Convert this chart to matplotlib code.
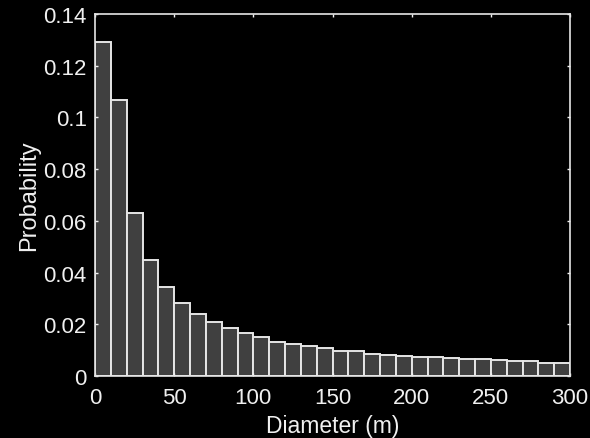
import matplotlib
matplotlib.use("Agg")
import matplotlib.pyplot as plt
import numpy as np

bin_edges = list(range(0, 310, 10))
probabilities = [0.129, 0.1068, 0.0632, 0.0449, 0.0345, 0.0281, 0.0239, 0.0209,
                 0.0184, 0.0165, 0.0150, 0.0131, 0.0125, 0.0116, 0.0107, 0.0098,
                 0.0095, 0.0086, 0.0081, 0.0076, 0.0072, 0.0072, 0.0068, 0.0064,
                 0.0066, 0.0062, 0.0058, 0.0058, 0.0049, 0.0049]
x_ticks = [0, 50, 100, 150, 200, 250, 300]
y_ticks = [0, 0.02, 0.04, 0.06, 0.08, 0.1, 0.12, 0.14]
y_tick_labels = ["0", "0.02", "0.04", "0.06", "0.08", "0.1", "0.12", "0.14"]

plt.rcParams['font.family'] = ['Liberation Sans', 'DejaVu Sans']
fig = plt.figure(figsize=(5.9, 4.39), dpi=100, facecolor='black')
ax = fig.add_axes([95/590, 1 - 377/439, 475/590, 362/439])
ax.set_facecolor('black')

lefts = bin_edges[:-1]
widths = np.diff(bin_edges)
ax.bar(lefts, probabilities, width=widths, align='edge', color='#404040',
       edgecolor='#e6e6e6', linewidth=1.4)

ax.set_xlim(0, 300)
ax.set_ylim(0, 0.14)
ax.set_xticks(x_ticks)
ax.set_yticks(y_ticks)
ax.set_yticklabels(y_tick_labels)
ax.tick_params(direction='in', colors='#f0f0f0', labelsize=16, length=2.5,
               width=1, top=True, right=True)
ax.tick_params(axis='y', pad=6)
ax.tick_params(axis='x', pad=8)
for s in ax.spines.values():
    s.set_color('#e6e6e6')
    s.set_linewidth(1.2)
ax.set_xlabel('Diameter (m)', color='#f0f0f0', fontsize=16.5, labelpad=4)
ax.set_ylabel('Probability', color='#f0f0f0', fontsize=17, labelpad=2)

fig.savefig('out.png', dpi=100, facecolor='black')
